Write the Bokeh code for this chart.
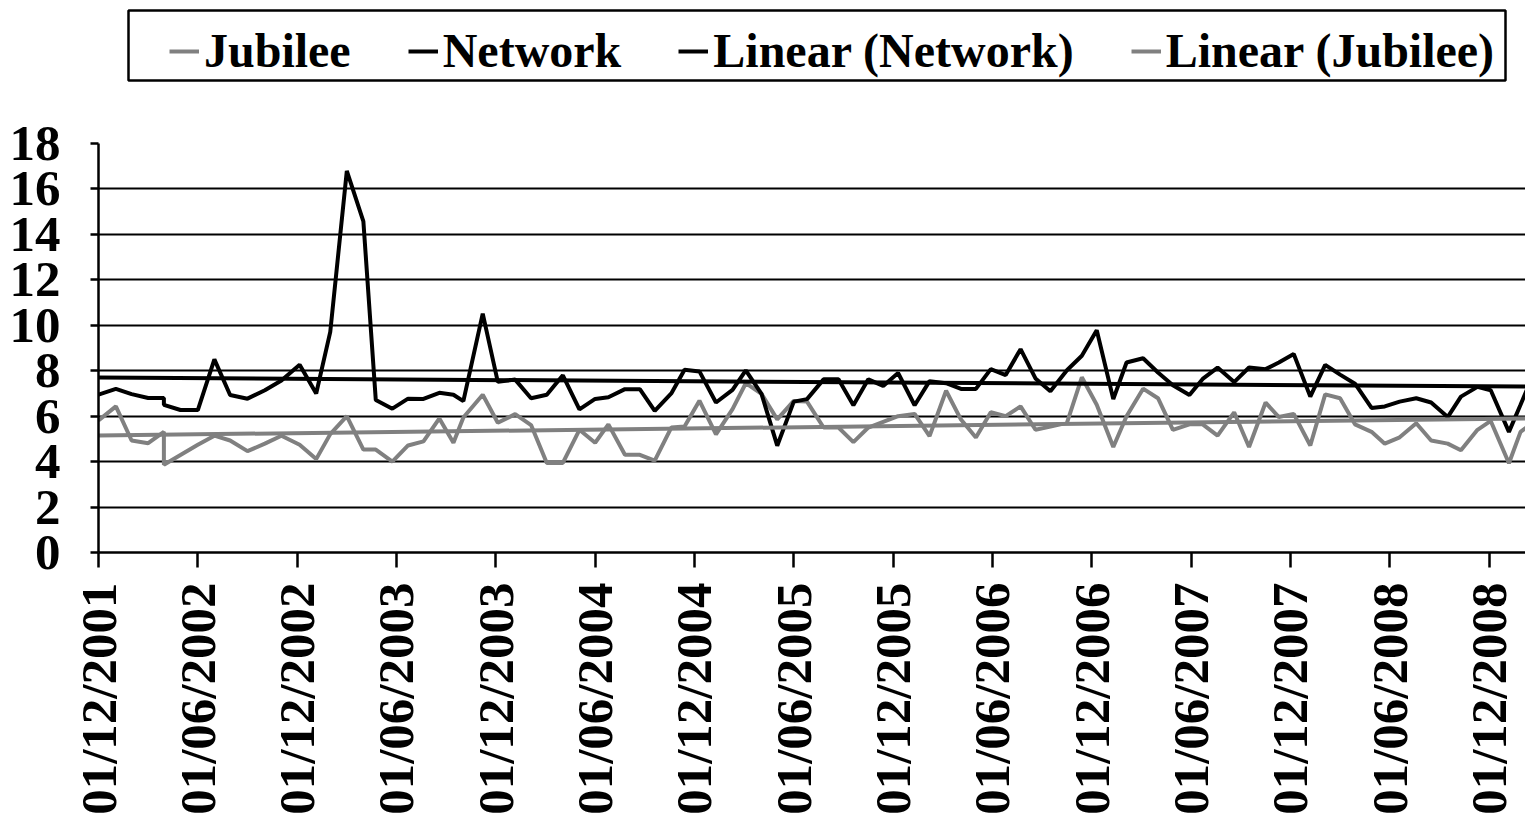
import math
from bokeh.plotting import figure
from bokeh.models import Range1d, Legend, LegendItem, FixedTicker, BoxAnnotation
from bokeh.layouts import column
from bokeh.embed import file_html
from bokeh.resources import INLINE

# x = months since 01/12/2001
net_x = [0, 1.05, 2.0, 3.0, 3.95, 3.95, 4.95, 6.0, 7.0, 7.95, 9.0, 10.05, 11.05, 12.15, 13.15, 14.0,
         15.0, 16.0, 16.75, 17.75, 18.7, 19.63, 20.59, 21.44, 22.04, 23.21, 24.12, 25.17, 26.13,
         27.08, 28.05, 29.05, 30.0, 30.8, 31.8, 32.7, 33.6, 34.6, 35.4, 36.3, 37.3, 38.3, 39.1,
         40.05, 41.0, 42.0, 42.8, 43.8, 44.7, 45.6, 46.5, 47.4, 48.3, 49.3, 50.2, 51.2, 52.1, 53.0,
         53.9, 54.8, 55.7, 56.6, 57.5, 58.5, 59.4, 60.3, 61.3, 62.1, 63.1, 64.0, 64.9, 65.9, 66.7,
         67.6, 68.6, 69.5, 70.5, 71.3, 72.2, 73.2, 74.1, 75.0, 75.9, 76.9, 77.7, 78.6, 79.6, 80.5,
         81.5, 82.3, 83.3, 84.1, 85.2, 85.9, 86.6]
network = [6.95, 7.2, 6.97, 6.8, 6.8, 6.5, 6.27, 6.27, 8.5, 6.93, 6.77, 7.14, 7.57, 8.26, 7.0, 9.71,
           16.79, 14.57, 6.71, 6.33, 6.77, 6.76, 7.03, 6.94, 6.66, 10.51, 7.51, 7.61, 6.79,
           6.94, 7.8, 6.3, 6.76, 6.83, 7.19, 7.19, 6.23, 7.0, 8.04, 7.97, 6.6, 7.16, 8.02,
           6.98, 4.7, 6.64, 6.75, 7.62, 7.62, 6.48, 7.62, 7.33, 7.9, 6.48, 7.54, 7.45, 7.2, 7.2,
           8.07, 7.81, 8.95, 7.66, 7.1, 8.02, 8.66, 9.78, 6.75, 8.36, 8.55, 7.92, 7.36, 6.93, 7.64,
           8.14, 7.5, 8.14, 8.07, 8.36, 8.74, 6.86, 8.26, 7.83, 7.43, 6.36, 6.43, 6.64, 6.79, 6.6,
           5.96, 6.86, 7.29, 7.14, 5.31, 6.5, 7.71]
jubilee = [5.81, 6.43, 4.93, 4.81, 5.31, 3.86, 4.29, 4.74, 5.14, 4.93, 4.46, 4.79, 5.14, 4.74, 4.11, 5.21,
           6.0, 4.53, 4.53, 4.0, 4.71, 4.89, 5.9, 4.83, 5.94, 6.94, 5.71, 6.09, 5.61,
           3.94, 3.94, 5.4, 4.83, 5.64, 4.3, 4.3, 4.04, 5.5, 5.54, 6.68, 5.2, 6.31, 7.45,
           6.98, 5.86, 6.67, 6.64, 5.5, 5.5, 4.86, 5.5, 5.75, 6.0, 6.1, 5.12, 7.12, 5.85, 5.06,
           6.17, 6.0, 6.43, 5.4, 5.54, 5.71, 7.71, 6.5, 4.64, 6.0, 7.21, 6.79, 5.4, 5.64, 5.64,
           5.14, 6.17, 4.64, 6.6, 5.96, 6.1, 4.71, 6.96, 6.79, 5.64, 5.31, 4.79, 5.07, 5.69, 4.93,
           4.79, 4.5, 5.4, 5.79, 3.93, 5.31, 5.69]

trend_x = [0, 87]
net_trend = [7.7, 7.3]
jub_trend = [5.15, 5.9]

tick_months = [0, 6, 12, 18, 24, 30, 36, 42, 48, 54, 60, 66, 72, 78, 84]
tick_labels = ["01/12/2001", "01/06/2002", "01/12/2002", "01/06/2003", "01/12/2003",
               "01/06/2004", "01/12/2004", "01/06/2005", "01/12/2005", "01/06/2006",
               "01/12/2006", "01/06/2007", "01/12/2007", "01/06/2008", "01/12/2008"]
y_ticks = [0, 2, 4, 6, 8, 10, 12, 14, 16, 18]
series_names = ["Jubilee", "Network", "Linear (Network)", "Linear (Jubilee)"]
series_colors = ["#808080", "black", "black", "#808080"]

FONT = "Liberation Serif"
FS = "51px"
LFS = "48px"
LW = 4
W = 1525
LEFT = 98

# ---- legend strip (its plot area is a plain pixel grid) ----
HL = 90
pl = figure(width=W, height=HL, output_backend="svg", toolbar_location=None,
            x_range=Range1d(0, W - LEFT), y_range=Range1d(0, HL),
            x_axis_location=None, y_axis_location=None,
            min_border_left=LEFT, min_border_right=0, min_border_top=0, min_border_bottom=0)
pl.grid.visible = False
pl.outline_line_color = None
pl.add_layout(BoxAnnotation(left=30, right=1407, bottom=10, top=80, fill_alpha=0,
                            line_color="black", line_alpha=1, line_width=2.5))
lr = [pl.line(net_x[:1], jubilee[:1], line_color=c, line_width=LW) for c in series_colors]
legend = Legend(items=[LegendItem(label=n, renderers=[r]) for n, r in zip(series_names, lr)],
                location=(71, 12), orientation="horizontal",
                label_text_font=FONT, label_text_font_style="bold", label_text_font_size=LFS,
                label_text_color="black",
                glyph_width=30, label_standoff=5, spacing=57, padding=4,
                border_line_color=None, background_fill_alpha=0)
pl.add_layout(legend, "center")

# ---- main chart ----
H = 817 - HL
p = figure(width=W, height=H, output_backend="svg", toolbar_location=None,
           x_range=Range1d(0, 86.2), y_range=Range1d(0, 18),
           min_border_left=LEFT, min_border_right=0, min_border_top=143 - HL, min_border_bottom=254)
p.outline_line_color = None

p.line(net_x, jubilee, line_color=series_colors[0], line_width=LW)
p.line(net_x, network, line_color=series_colors[1], line_width=LW)
p.line(trend_x, net_trend, line_color=series_colors[2], line_width=LW)
p.line(trend_x, jub_trend, line_color=series_colors[3], line_width=LW)

p.xgrid.visible = False
p.ygrid.ticker = FixedTicker(ticks=y_ticks)
p.ygrid.grid_line_color = "black"
p.ygrid.grid_line_width = 2

p.xaxis.ticker = FixedTicker(ticks=tick_months)
p.xaxis.major_label_overrides = {m: l for m, l in zip(tick_months, tick_labels)}
p.xaxis.major_label_orientation = math.pi / 2
p.xaxis.major_tick_out = 15
p.xaxis.major_tick_in = 0
p.xaxis.major_label_standoff = 15

p.yaxis.ticker = FixedTicker(ticks=y_ticks)
p.yaxis.major_tick_out = 8
p.yaxis.major_tick_in = 0
p.yaxis.major_label_standoff = 30

for ax in (p.xaxis[0], p.yaxis[0]):
    ax.axis_line_color = "black"
    ax.axis_line_width = 2.5
    ax.major_tick_line_color = "black"
    ax.major_tick_line_width = 2.5
    ax.minor_tick_line_color = None
    ax.major_label_text_font = FONT
    ax.major_label_text_font_style = "bold"
    ax.major_label_text_font_size = FS
    ax.major_label_text_color = "black"

layout = column(pl, p, spacing=0)
open("out.html", "w").write(file_html(layout, INLINE))
